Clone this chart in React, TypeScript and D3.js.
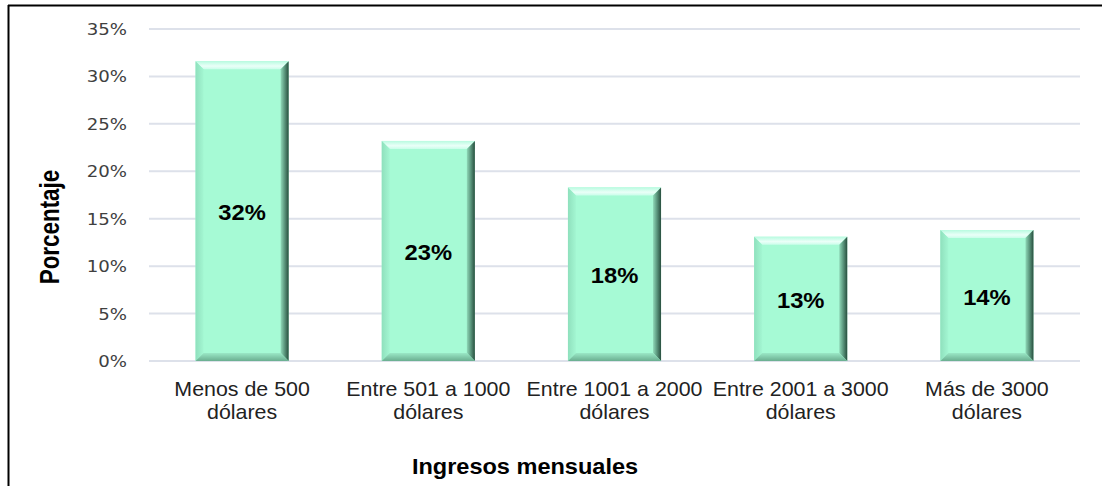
import React from "react";
import * as d3 from "d3";

const categories: string[][] = [
  ["Menos de 500", "dólares"],
  ["Entre 501 a 1000", "dólares"],
  ["Entre 1001 a 2000", "dólares"],
  ["Entre 2001 a 3000", "dólares"],
  ["Más de 3000", "dólares"],
];
const values: number[] = [31.6, 23.2, 18.3, 13.1, 13.8];
const labels: string[] = ["32%", "23%", "18%", "13%", "14%"];
const yTicks: number[] = [0, 5, 10, 15, 20, 25, 30, 35];
const yTitle = "Porcentaje";
const xTitle = "Ingresos mensuales";

const W = 1102;
const H = 486;
const plot = { left: 149, right: 1080, top: 29, bottom: 361 };

export default function App() {
  const keys = categories.map((c) => c.join(" "));
  const x = d3
    .scaleBand<string>()
    .domain(keys)
    .range([plot.left, plot.right])
    .paddingInner(0.5)
    .paddingOuter(0.25);
  const y = d3.scaleLinear().domain([0, 35]).range([plot.bottom, plot.top]);
  const bw = x.bandwidth();
  const bev = 8;
  const sx = 1.08;

  return (
    <svg
      width={W}
      height={H}
      style={{ position: "absolute", left: 0, top: 0, background: "#fff" }}
    >
      <defs>
        <linearGradient id="topBev" x1="0" y1="0" x2="0" y2="1">
          <stop offset="0" stopColor="#b8fbe0" />
          <stop offset="0.6" stopColor="#eafff8" />
          <stop offset="1" stopColor="#cafdea" />
        </linearGradient>
        <linearGradient id="rightBev" x1="0" y1="0" x2="1" y2="0">
          <stop offset="0" stopColor="#8fd9b8" />
          <stop offset="0.5" stopColor="#5a957c" />
          <stop offset="1" stopColor="#284e3e" />
        </linearGradient>
        <linearGradient id="leftBev" x1="0" y1="0" x2="1" y2="0">
          <stop offset="0" stopColor="#8fe0bd" />
          <stop offset="1" stopColor="#a3f6d2" />
        </linearGradient>
        <linearGradient id="botBev" x1="0" y1="0" x2="0" y2="1">
          <stop offset="0" stopColor="#9ae8c6" />
          <stop offset="1" stopColor="#6aae90" />
        </linearGradient>
      </defs>
      {/* frame */}
      <line x1={8} y1={5.5} x2={1102} y2={5.5} stroke="#000" strokeWidth={2} />
      <line x1={8.5} y1={5} x2={8.5} y2={486} stroke="#000" strokeWidth={2} />
      {/* grid */}
      {yTicks.map((t) => (
        <g key={t}>
          <line
            x1={plot.left}
            x2={plot.right}
            y1={y(t)}
            y2={y(t)}
            stroke="#dde1ea"
            strokeWidth={2}
          />
          <text
            transform={`translate(127,${y(t) + 6}) scale(1.1,1)`}
            textAnchor="end"
            fontFamily="DejaVu Sans, Verdana, sans-serif"
            fontSize={16.5}
            fill="#404040"
          >
            {t}%
          </text>
        </g>
      ))}
      {/* bars */}
      {values.map((v, i) => {
        const x0 = x(keys[i])!;
        const x1 = x0 + bw;
        const y0 = y(v);
        const y1 = y(0);
        return (
          <g key={keys[i]}>
            <rect x={x0} y={y0} width={bw} height={y1 - y0} fill="#a6fad5" />
            <polygon
              points={`${x0},${y0} ${x1},${y0} ${x1 - bev},${y0 + bev} ${x0 + bev},${y0 + bev}`}
              fill="url(#topBev)"
            />
            <polygon
              points={`${x0},${y0} ${x0 + bev},${y0 + bev} ${x0 + bev},${y1 - bev} ${x0},${y1}`}
              fill="url(#leftBev)"
            />
            <polygon
              points={`${x1},${y0} ${x1},${y1} ${x1 - bev},${y1 - bev} ${x1 - bev},${y0 + bev}`}
              fill="url(#rightBev)"
            />
            <polygon
              points={`${x0},${y1} ${x1},${y1} ${x1 - bev},${y1 - bev} ${x0 + bev},${y1 - bev}`}
              fill="url(#botBev)"
            />
            <text
              transform={`translate(${x0 + bw / 2},${(y0 + y1) / 2 + 9}) scale(${sx},1)`}
              textAnchor="middle"
              fontFamily="Liberation Sans, Arial, sans-serif"
              fontWeight="bold"
              fontSize={22}
              fill="#000"
            >
              {labels[i]}
            </text>
          </g>
        );
      })}
      {/* x labels */}
      {categories.map((c, i) => (
        <g key={"xl" + i}>
          {c.map((line, j) => (
            <text
              key={j}
              transform={`translate(${x(keys[i])! + bw / 2},${396 + j * 23}) scale(${sx},1)`}
              textAnchor="middle"
              fontFamily="Liberation Sans, Arial, sans-serif"
              fontSize={19.8}
              fill="#222"
            >
              {line}
            </text>
          ))}
        </g>
      ))}
      {/* titles */}
      <text
        transform={`translate(59,227) rotate(-90) scale(0.8,1)`}
        textAnchor="middle"
        fontFamily="Liberation Sans, Arial, sans-serif"
        fontWeight="bold"
        fontSize={28}
        fill="#000"
      >
        {yTitle}
      </text>
      <text
        transform={`translate(525,474) scale(${sx},1)`}
        textAnchor="middle"
        fontFamily="Liberation Sans, Arial, sans-serif"
        fontWeight="bold"
        fontSize={21.8}
        fill="#000"
      >
        {xTitle}
      </text>
    </svg>
  );
}
